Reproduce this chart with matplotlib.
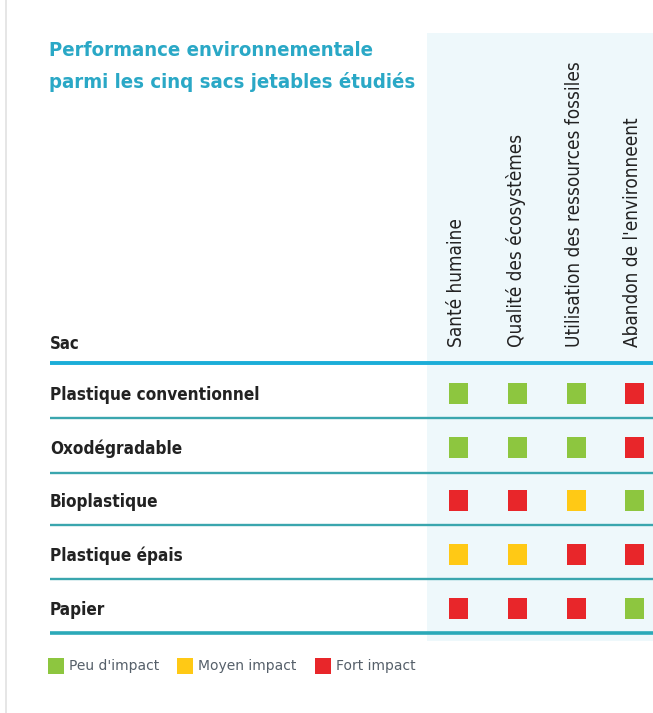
import matplotlib
matplotlib.use("Agg")
import matplotlib.pyplot as plt

plt.rcParams['font.family'] = ['DejaVu Sans']

# data
bags = ["Plastique conventionnel", "Oxodégradable", "Bioplastique",
        "Plastique épais", "Papier"]
criteria = ["Santé humaine", "Qualité des écosystèmes",
            "Utilisation des ressources fossiles", "Abandon de l'environneent"]
# 0 = peu, 1 = moyen, 2 = fort
impact = [
    [0, 0, 0, 2],
    [0, 0, 0, 2],
    [2, 2, 1, 0],
    [1, 1, 2, 2],
    [2, 2, 2, 0],
]
levels = ["Peu d'impact", "Moyen impact", "Fort impact"]
level_colors = ["#8DC63F", "#FFC915", "#E8262A"]

title = "Performance environnementale\nparmi les cinq sacs jetables étudiés"

# layout (pixels)
W, H = 653, 713
col_x = [458, 517, 576, 634]
row_y = [393, 447, 500, 554, 608]
sep_y = [418, 473, 525, 579]
left = 50

fig = plt.figure(figsize=(W / 100, H / 100), dpi=100)
ax = fig.add_axes([0, 0, 1, 1])
ax.set_xlim(0, W)
ax.set_ylim(H, 0)
ax.axis("off")

# page edge line
ax.plot([6, 6], [0, H], color="#E2E2E2", lw=1.2)

# light column band
ax.add_patch(plt.Rectangle((427, 33), W - 427, 608, color="#EEF8FB", lw=0, zorder=0))

ax.text(left - 1, 66, title, color="#2AA8C6", fontsize=14.6, fontweight="bold",
        fontstretch="condensed", va="center", ha="left", linespacing=1.75)

for x, c in zip(col_x, criteria):
    ax.text(x - 1, 347, c, rotation=90, ha="center", va="bottom", fontsize=13.6,
            fontstretch="condensed", color="#222222")

ax.text(left, 349, "Sac", fontsize=12, fontweight="bold", va="baseline",
        fontstretch="condensed", color="#222222")
ax.plot([left, W], [363, 363], color="#1BADD8", lw=2.8, solid_capstyle="butt")

for y, name in zip(row_y, bags):
    ax.text(left, y + 7, name, fontsize=12.3, fontweight="bold", va="baseline",
            fontstretch="condensed", color="#222222")
for y in sep_y:
    ax.plot([left, W], [y, y], color="#3AA6AE", lw=1.7, solid_capstyle="butt")
ax.plot([left, W], [633, 633], color="#2BA9B8", lw=2.6, solid_capstyle="butt")

for r, y in enumerate(row_y):
    for c, x in enumerate(col_x):
        ax.bar(x, 21, bottom=y - 10.5, width=19,
               color=level_colors[impact[r][c]], lw=0)

# legend
leg_x = [48, 177, 315]
for lx, lab, col in zip(leg_x, levels, level_colors):
    ax.bar(lx + 8, 16, bottom=658, width=16, color=col, lw=0)
    ax.text(lx + 21, 666, lab, fontsize=10, color="#56606A", va="center")

fig.savefig("out.png", dpi=100)
